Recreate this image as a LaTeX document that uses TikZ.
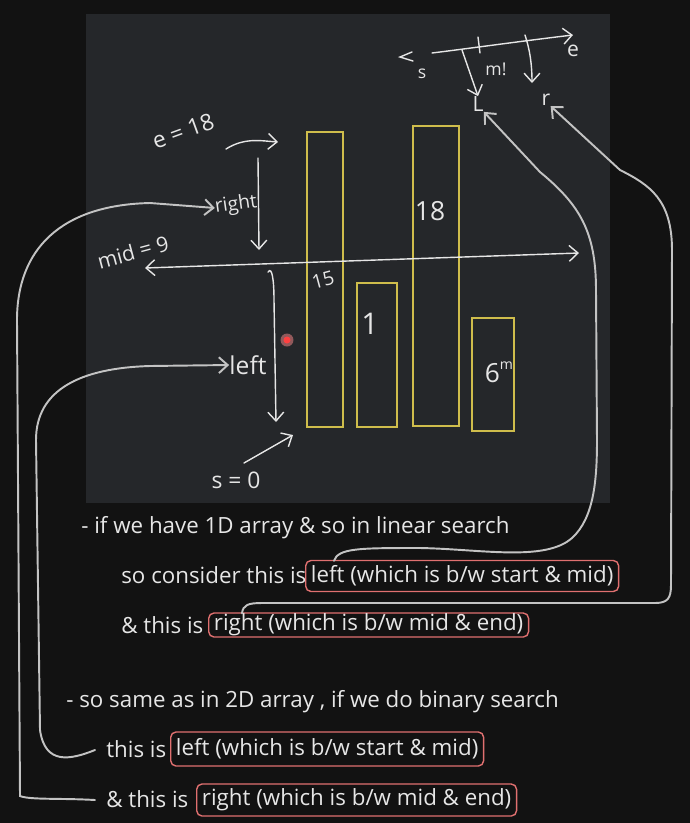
\documentclass[tikz,border=0pt]{standalone}
\usepackage{fontspec}
\setmainfont{Open Sans}
\usetikzlibrary{arrows.meta,calc,positioning}
\definecolor{pagebg}{HTML}{121212}
\definecolor{panelbg}{HTML}{25272A}
\definecolor{ink}{HTML}{E6E6E6}
\definecolor{barline}{HTML}{CFBD4C}
\definecolor{boxline}{HTML}{E07070}

\begin{document}
\begin{tikzpicture}[x=0.02cm, y=-0.02cm, >={Straight Barb[length=5pt,width=9pt]},
   note/.style={text=ink, font=\fontsize{12.7}{15}\selectfont, anchor=base west, inner sep=0pt},
   hl/.style={draw=boxline, line width=0.8pt, rounded corners=3pt, text=ink,
      font=\fontsize{12.7}{15}\selectfont, anchor=west, inner xsep=3pt, inner ysep=0pt},
   scrawl/.style={text=ink, inner sep=0pt},
   sketch/.style={draw=ink, line width=0.8pt, line cap=round},
   link/.style={draw=ink!85!black, line width=1.1pt, line cap=round},
   bar/.style={draw=barline, line width=1.1pt}]

   \fill[pagebg] (0,0) rectangle (690,823);
   \useasboundingbox (0,0) rectangle (690,823);
   \fill[panelbg] (86,14) rectangle (610,503);

   \draw[bar] (307,132) rectangle (343,427);
   \draw[bar] (357,283) rectangle (397,427);
   \draw[bar] (413,126) rectangle (459,426);
   \draw[bar] (472,318) rectangle (514,431);

   \node (v15) at (323,280) [scrawl, rotate=15, font=\fontsize{11}{12}\selectfont] {15};
   \node (v1) at (370,324) [scrawl, font=\fontsize{17}{18}\selectfont] {1};
   \node (v18) at (430,211) [scrawl, font=\fontsize{15}{16}\selectfont] {18};
   \node (v6) at (499,372) [scrawl, font=\fontsize{15}{16}\selectfont] {6\raisebox{0.9ex}{\fontsize{8}{9}\selectfont m}};

   \node (eval) at (183,131) [scrawl, rotate=20, font=\fontsize{13}{14}\selectfont] {e = 18};
   \node (midval) at (133,252) [scrawl, rotate=15, font=\fontsize{12}{13}\selectfont] {mid = 9};
   \node (sval) at (236,480) [scrawl, font=\fontsize{13}{14}\selectfont] {s = 0};
   \node (lblright) at (236,205) [scrawl, rotate=8, font=\fontsize{11}{12}\selectfont] {right};
   \node (lblleft) at (248,365) [scrawl, font=\fontsize{14}{15}\selectfont] {left};

   \draw[sketch, ->] (226,149) .. controls (245,137) and (262,141) .. (278,142);
   \draw[sketch, ->] (258,158) -- (259,250);
   \draw[sketch, <->] (145,268) -- (579,253);
   \draw[sketch, ->] (268,272) .. controls (272,266) and (274,280) .. (274,300) -- (276,422);
   \draw[sketch, ->] (244,463) -- (293,435);
   \fill[red!45, opacity=0.5] (287,340) circle (1.3mm);
   \fill[red!75!white] (287,340) circle (0.7mm);

   \node (ns) at (422,74) [scrawl, font=\fontsize{10}{11}\selectfont] {s};
   \node (nm) at (496,69) [scrawl, font=\fontsize{10}{11}\selectfont] {m!};
   \node (ne) at (573,51) [scrawl, font=\fontsize{12}{13}\selectfont] {e};
   \node (lblL) at (478,104) [scrawl, font=\fontsize{12}{13}\selectfont] {L};
   \node (lblR) at (546,100) [scrawl, font=\fontsize{12}{13}\selectfont] {r};
   \draw[sketch] (412,52) -- (400,57) -- (413,61);
   \draw[sketch, ->] (432,53) .. controls (480,47) and (530,40) .. (573,35);
   \draw[sketch] (478,37) -- (480,53);
   \draw[sketch, ->] (462,50) -- (lblL.north);
   \draw[sketch, ->] (525,35) .. controls (530,50) and (532,65) .. (532,83);

   \node (t1) at (81,533) [note] {- if we have 1D array \& so in linear search};
   \node (t2) at (121,583) [note] {so consider this is};
   \node (boxLa) at (305,576) [hl, minimum height=0.62cm] {left (which is b/w start \& mid)};
   \node (t3) at (121,633) [note] {\& this is};
   \node (boxRa) at (208,625) [hl, minimum height=0.48cm] {right (which is b/w mid \& end)};
   \node (t4) at (66,707) [note] {- so same as in 2D array , if we do binary search};
   \node (t5) at (106,757) [note] {this is};
   \node (boxLb) at (170,749) [hl, minimum height=0.68cm] {left (which is b/w start \& mid)};
   \node (t6) at (106,807) [note] {\& this is};
   \node (boxRb) at (196,800) [hl, minimum height=0.64cm] {right (which is b/w mid \& end)};

   \draw[link, ->] ($(boxLa.north west)+(29,1)$) .. controls (338,548) and (360,548) .. (420,548)
      .. controls (480,549) and (545,562) .. (572,538)
      .. controls (594,518) and (597,480) .. (597,440) -- (596,290)
      .. controls (596,232) and (580,205) .. (540,172) -- (lblL.south east);
   \draw[link, ->] ($(boxRa.north west)+(34,1)$) .. controls (243,605) and (248,603) .. (262,603)
      -- (655,603) .. controls (668,603) and (671,598) .. (671,585)
      -- (672,250) .. controls (672,200) and (650,185) .. (620,170) -- (lblR.south east);
   \draw[link, ->] ($(t5.base west)+(-11,-7)$) .. controls (70,760) and (45,765) .. (40,730)
      -- (36,440) .. controls (36,390) and (80,368) .. (150,366) -- (lblleft.west);
   \draw[link, ->] ($(t6.base west)+(-11,-7)$) .. controls (60,798) and (30,800) .. (20,796)
      -- (17,320) .. controls (17,250) and (60,205) .. (150,203) -- (lblright.west);
\end{tikzpicture}
\end{document}
